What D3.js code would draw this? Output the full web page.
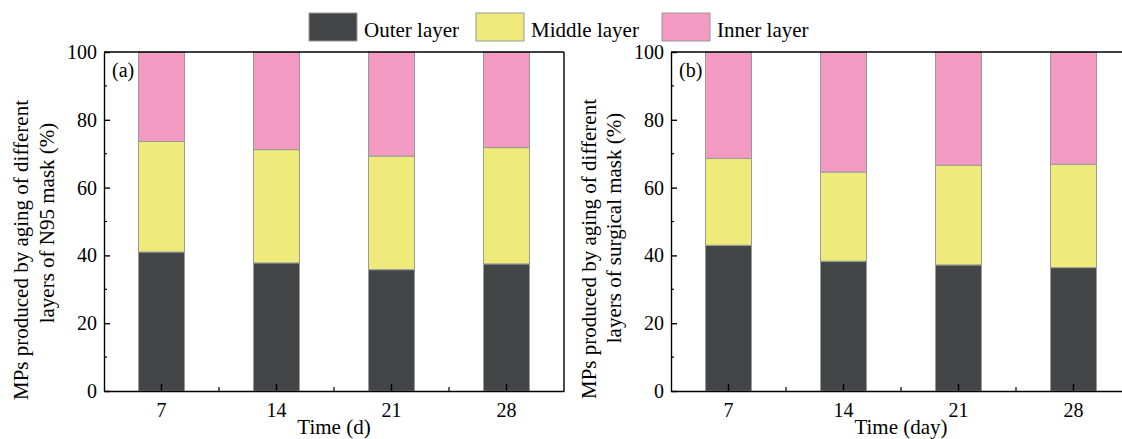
<!DOCTYPE html>
<html>
<head>
<meta charset="utf-8">
<script src="https://cdn.jsdelivr.net/npm/d3@7"></script>
<style>
  html, body { margin: 0; padding: 0; background: #fff; }
  svg { display: block; font-family: "Liberation Serif", "Times New Roman", serif; }
</style>
</head>
<body>
<svg id="chart" width="1122" height="439"></svg>
<script>
// ---------- data ----------
const categories = ["7", "14", "21", "28"];
const seriesNames = ["Outer layer", "Middle layer", "Inner layer"];
const seriesColors = ["#444546", "#efeb7a", "#f29ac2"];

// percentages (a) N95 mask
const n95Outer  = [41.0, 37.8, 35.8, 37.5];
const n95Middle = [32.6, 33.4, 33.5, 34.3];
const n95Inner  = [26.4, 28.8, 30.7, 28.2];

// percentages (b) surgical mask
const surgOuter  = [43.0, 38.3, 37.2, 36.4];
const surgMiddle = [25.6, 26.3, 29.4, 30.5];
const surgInner  = [31.4, 35.4, 33.4, 33.1];

const yTicks = [0, 20, 40, 60, 80, 100];
const yMinorTicks = [10, 30, 50, 70, 90];

const panels = [
  { label: "(a)", xTitle: "Time (d)",
    yTitle: ["MPs produced by aging of different", "layers of N95 mask (%)"],
    values: [n95Outer, n95Middle, n95Inner],
    x0: 104, x1: 564, titleX: [28, 54], titleY: [250, 223], rightBorder: true },
  { label: "(b)", xTitle: "Time (day)",
    yTitle: ["MPs produced by aging of different", "layers of surgical mask (%)"],
    values: [surgOuter, surgMiddle, surgInner],
    x0: 671, x1: 1131, titleX: [596, 621], titleY: [249, 228], rightBorder: false }
];

// ---------- drawing ----------
const svg = d3.select("#chart");
const yTop = 52, yBot = 391;
const y = d3.scaleLinear().domain([0, 100]).range([yBot, yTop]);

panels.forEach(p => {
  const g = svg.append("g");
  const x = d3.scaleBand().domain(categories).range([p.x0, p.x1])
    .paddingInner(0.6).paddingOuter(0.3);

  // stacked data
  const rows = categories.map((c, i) => {
    const r = { cat: c };
    seriesNames.forEach((s, k) => r[s] = p.values[k][i]);
    return r;
  });
  const stacked = d3.stack().keys(seriesNames)(rows);

  stacked.forEach((layer, k) => {
    g.append("g").selectAll("rect").data(layer).join("rect")
      .attr("x", d => x(d.data.cat))
      .attr("width", x.bandwidth())
      .attr("y", d => y(Math.min(d[1], 100)))
      .attr("height", d => y(d[0]) - y(Math.min(d[1], 100)))
      .attr("fill", seriesColors[k])
      .attr("stroke", "#9a9a9a")
      .attr("stroke-width", 1);
  });

  // x axis
  const xAxis = d3.axisBottom(x).tickSizeInner(-7).tickSizeOuter(0).tickPadding(12);
  const gx = g.append("g").attr("transform", `translate(0,${yBot})`).call(xAxis);
  gx.select(".domain").attr("stroke", "#000").attr("stroke-width", 1.4);
  gx.selectAll(".tick line").attr("stroke", "#000").attr("stroke-width", 1.4);
  gx.selectAll(".tick text").attr("font-size", 20).attr("fill", "#000")
    .attr("font-family", "Liberation Serif");

  // minor x ticks between categories
  const mids = categories.slice(1).map(c => x(c) - x.step() * x.paddingInner() / 2);
  g.append("g").selectAll("line").data(mids).join("line")
    .attr("x1", d => d).attr("x2", d => d)
    .attr("y1", yBot).attr("y2", yBot - 4)
    .attr("stroke", "#000").attr("stroke-width", 1.2);

  // y axis
  const yAxis = d3.axisLeft(y).tickValues(yTicks).tickSizeInner(-6).tickSizeOuter(0).tickPadding(7);
  const gy = g.append("g").attr("transform", `translate(${p.x0},0)`).call(yAxis);
  gy.select(".domain").attr("stroke", "#000").attr("stroke-width", 1.4);
  gy.selectAll(".tick line").attr("stroke", "#000").attr("stroke-width", 1.4);
  gy.selectAll(".tick text").attr("font-size", 20).attr("fill", "#000")
    .attr("font-family", "Liberation Serif");
  g.append("g").selectAll("line").data(yMinorTicks).join("line")
    .attr("x1", p.x0).attr("x2", p.x0 + 3)
    .attr("y1", d => y(d)).attr("y2", d => y(d))
    .attr("stroke", "#000").attr("stroke-width", 1.2);

  // frame top / right
  g.append("line").attr("x1", p.x0).attr("x2", p.x1).attr("y1", yTop).attr("y2", yTop)
    .attr("stroke", "#000").attr("stroke-width", 1.4);
  if (p.rightBorder) {
    g.append("line").attr("x1", p.x1).attr("x2", p.x1).attr("y1", yTop).attr("y2", yBot)
      .attr("stroke", "#000").attr("stroke-width", 1.4);
  }

  // panel label
  g.append("text").attr("x", p.x0 + 8).attr("y", 77).attr("font-size", 20)
    .attr("fill", "#000").text(p.label);

  // x title
  g.append("text").attr("x", (p.x0 + p.x1) / 2).attr("y", 434)
    .attr("text-anchor", "middle").attr("font-size", 21).attr("fill", "#000")
    .text(p.xTitle);

  // y title (two lines)
  p.yTitle.forEach((t, i) => {
    g.append("text")
      .attr("transform", `translate(${p.titleX[i]},${p.titleY[i]}) rotate(-90)`)
      .attr("text-anchor", "middle").attr("font-size", 21).attr("fill", "#000")
      .text(t);
  });
});

// legend
const legendX = [309, 476, 662];
const legend = svg.append("g");
seriesNames.forEach((s, k) => {
  legend.append("rect").attr("x", legendX[k]).attr("y", 13).attr("width", 48).attr("height", 28)
    .attr("fill", seriesColors[k]).attr("stroke", "#9a9a9a").attr("stroke-width", 1);
  legend.append("text").attr("x", legendX[k] + 55).attr("y", 37)
    .attr("font-size", 21).attr("fill", "#000").text(s);
});
</script>
</body>
</html>
